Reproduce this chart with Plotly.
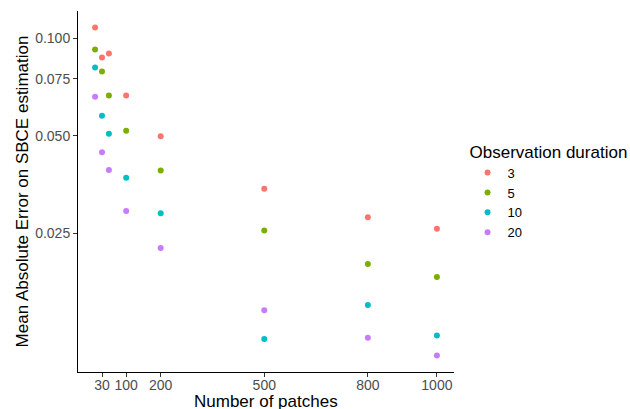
import plotly.graph_objects as go

patches = [10, 30, 50, 100, 200, 500, 800, 1000]
durations = ["3", "5", "10", "20"]
mae_3 = [0.1081, 0.0874, 0.0899, 0.0667, 0.0499, 0.0343, 0.0280, 0.0258]
mae_5 = [0.0925, 0.0791, 0.0667, 0.0519, 0.0391, 0.0255, 0.0201, 0.0183]
mae_10 = [0.0814, 0.0577, 0.0508, 0.0371, 0.0288, 0.01177, 0.01499, 0.01207]
mae_20 = [0.0660, 0.0445, 0.0392, 0.0293, 0.0225, 0.01446, 0.01188, 0.01047]
series = [mae_3, mae_5, mae_10, mae_20]
colors = ["#F8766D", "#7CAE00", "#00BFC4", "#C77CFF"]

x_ticks = [30, 100, 200, 500, 800, 1000]
y_ticks = [0.025, 0.05, 0.075, 0.1]
y_ticktext = ["0.025", "0.050", "0.075", "0.100"]

font = "Liberation Sans, Arial, sans-serif"

fig = go.Figure()
for name, vals, c in zip(durations, series, colors):
    fig.add_trace(go.Scatter(
        x=patches, y=vals, mode="markers", name=name,
        marker=dict(color=c, size=6, line=dict(width=0)),
    ))

fig.update_layout(
    width=630, height=409,
    margin=dict(l=78, r=176, t=11, b=37, autoexpand=False),
    paper_bgcolor="white", plot_bgcolor="white",
    font=dict(family=font, color="black", size=14),
    legend=dict(
        title=dict(text="Observation duration", font=dict(size=17, color="black")),
        font=dict(size=13, color="black"),
        x=1.036, xanchor="left", y=0.50, yanchor="middle",
        bgcolor="rgba(0,0,0,0)", tracegroupgap=0, itemwidth=30,
    ),
    xaxis=dict(
        range=[-39.5, 1049.5], tickvals=x_ticks,
        ticktext=[str(v) for v in x_ticks],
        showgrid=False, zeroline=False, showline=True, automargin=False,
        linecolor="black", linewidth=1,
        ticks="outside", ticklen=4, tickcolor="#333333", tickwidth=1,
        tickfont=dict(size=14, color="#4D4D4D"), ticklabelstandoff=-4,
    ),
    yaxis=dict(
        type="log", range=[-2.031, -0.915], tickvals=y_ticks, ticktext=y_ticktext,
        showgrid=False, zeroline=False, showline=True, automargin=False,
        linecolor="black", linewidth=1,
        ticks="outside", ticklen=4, tickcolor="#333333", tickwidth=1,
        tickfont=dict(size=14, color="#4D4D4D"),
        title=dict(text="Mean Absolute Error on SBCE estimation", font=dict(size=17, color="black"), standoff=2),
    ),
    annotations=[dict(
        text="Number of patches", xref="paper", yref="paper",
        x=0.5, y=-0.051, xanchor="center", yanchor="top", showarrow=False,
        font=dict(size=17, color="black"),
    )],
)

fig.write_html("out.html")
